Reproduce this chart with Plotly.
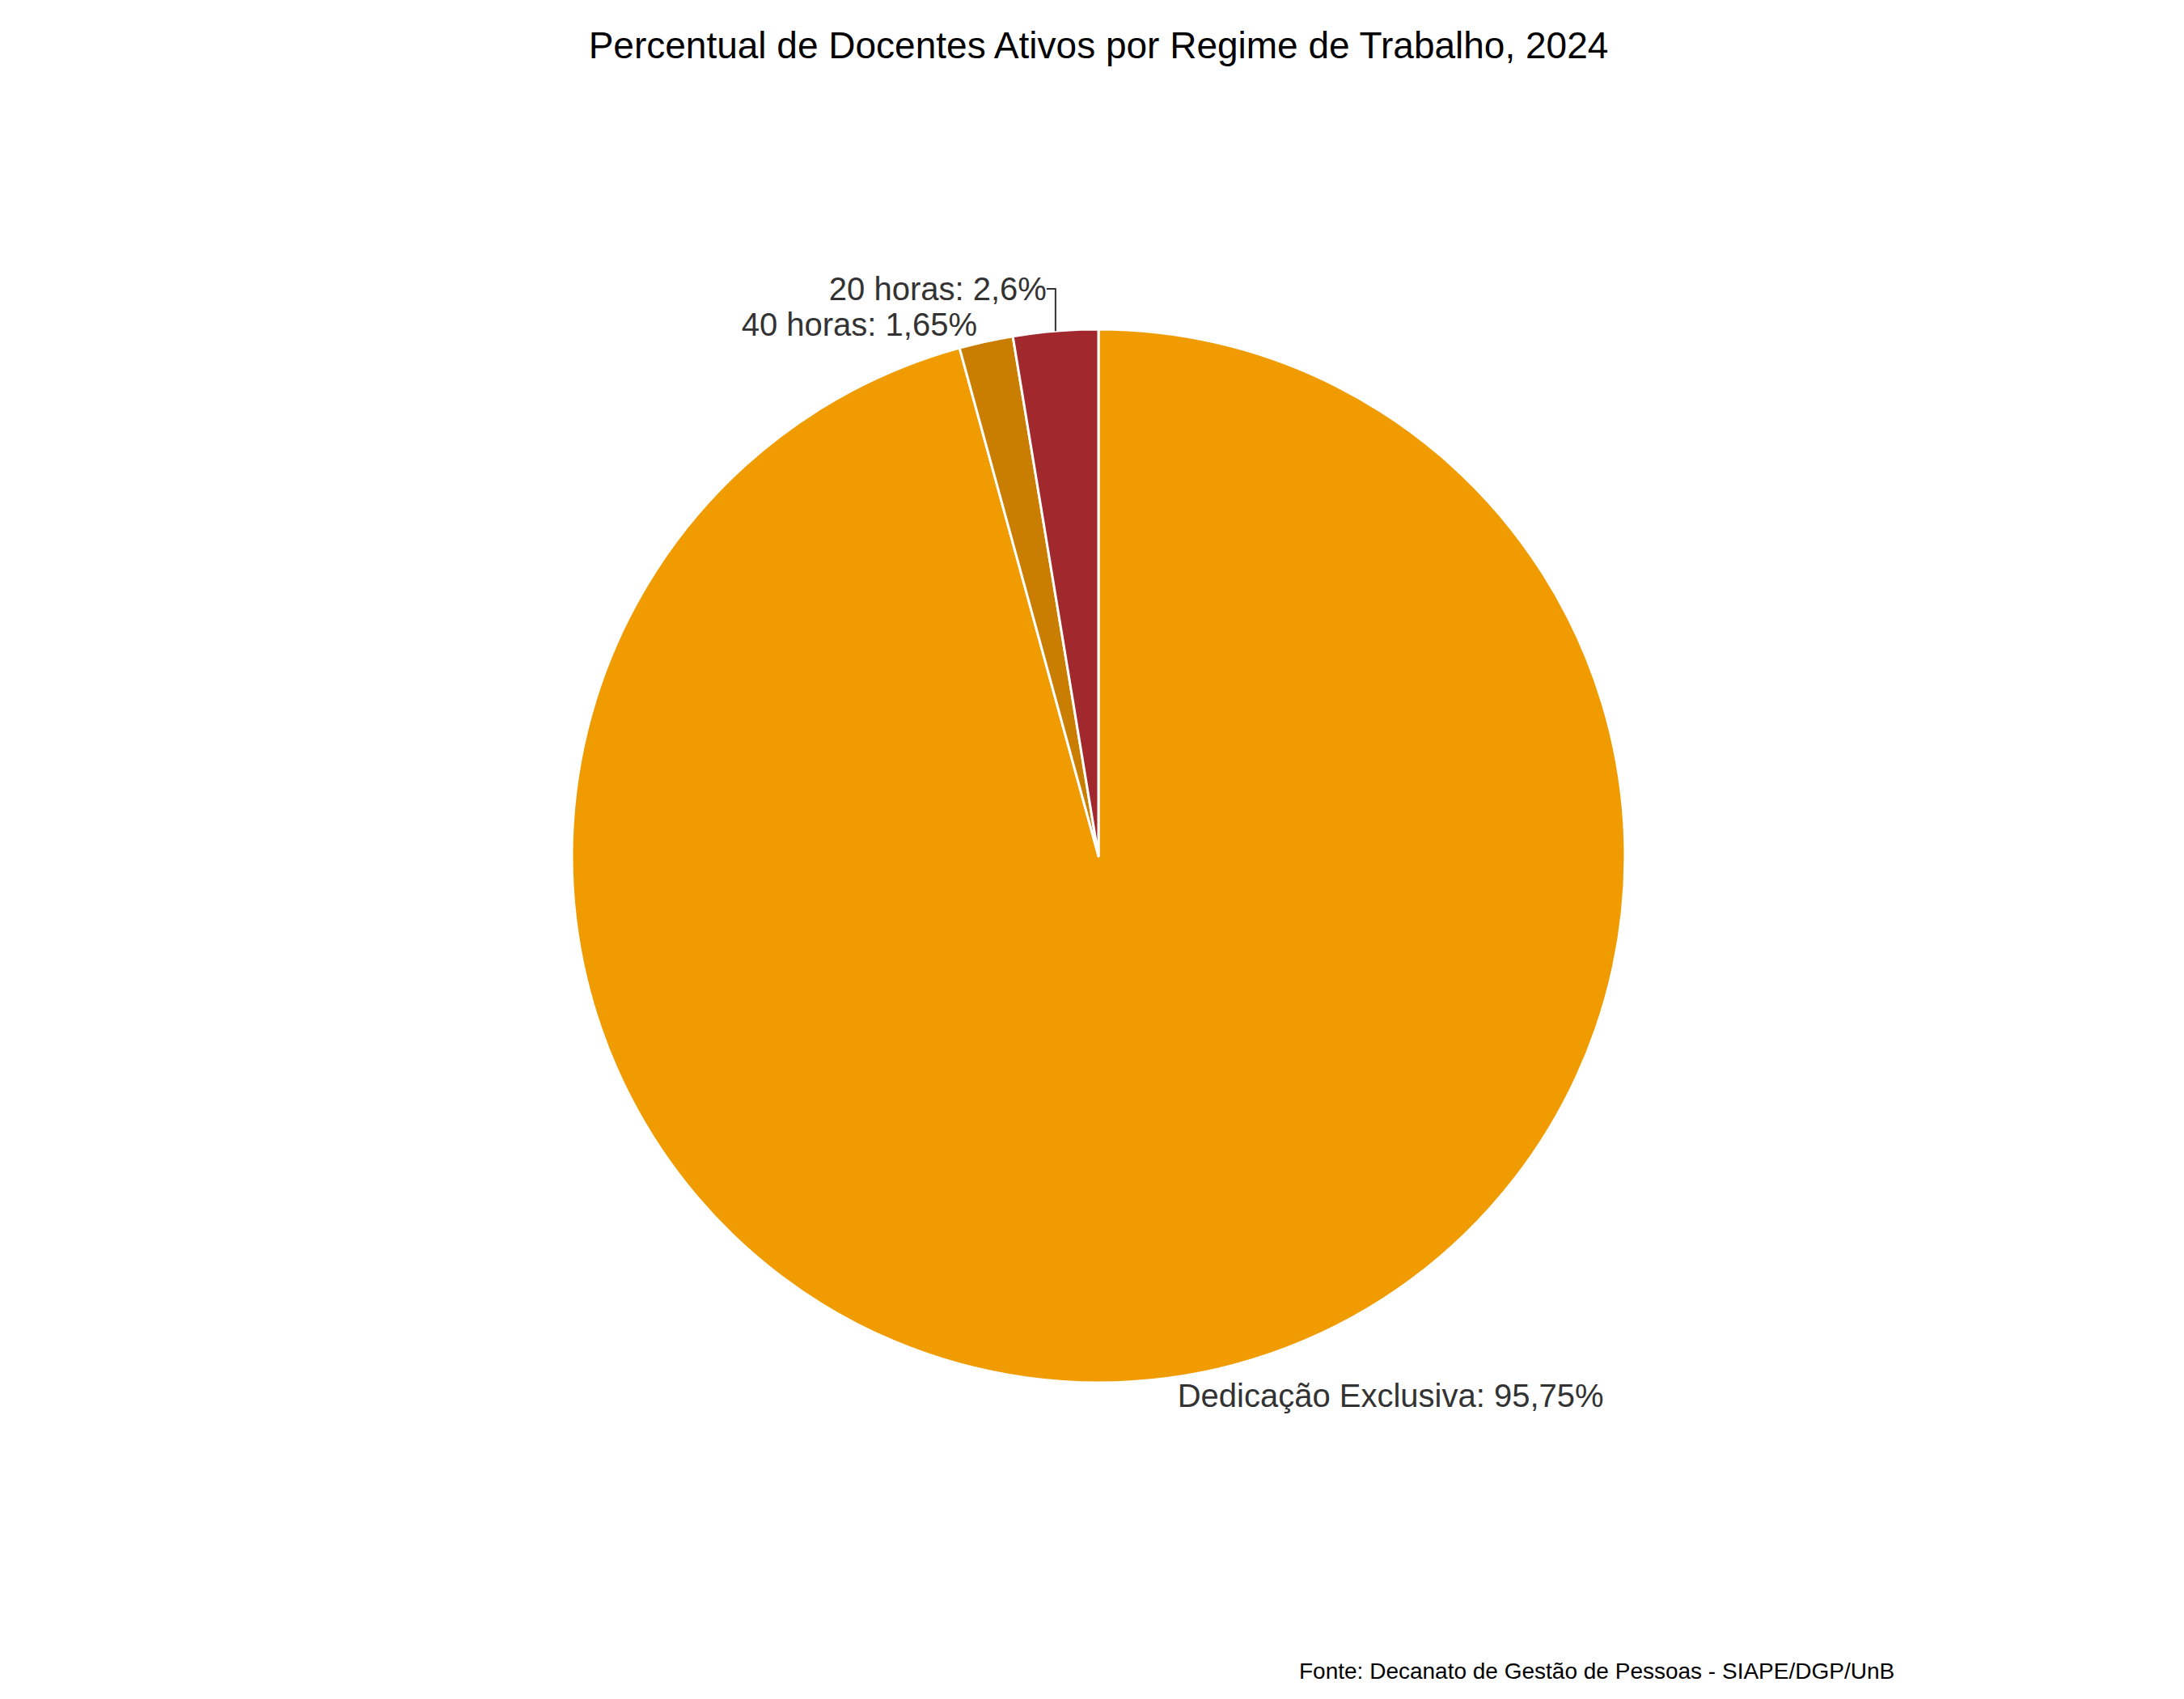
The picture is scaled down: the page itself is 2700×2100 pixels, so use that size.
import plotly.graph_objects as go

# dados
regimes = ['Dedicação Exclusiva', '40 horas', '20 horas']
percentuais = [95.75, 1.65, 2.6]
rotulos = ['95,75', '1,65', '2,6']
cores = ['#F09C00', '#C97E02', '#A1282C']

fig = go.Figure(go.Pie(
    labels=regimes,
    values=percentuais,
    text=[f'{r}: {p}%' for r, p in zip(regimes, rotulos)],
    textinfo='text',
    textposition='outside',
    direction='clockwise',
    rotation=0,
    sort=False,
    domain=dict(x=[0.25, 0.75], y=[0.19, 0.81]),
    marker=dict(colors=cores, line=dict(color='white', width=3)),
    textfont=dict(size=40, color='#333333'),
    showlegend=False,
))

fig.update_layout(
    width=2700, height=2100,
    font=dict(family='Liberation Sans, Arial, sans-serif'),
    title=dict(text='Percentual de Docentes Ativos por Regime de Trabalho, 2024',
               x=0.5, xanchor='center', y=0.985, font=dict(size=46, color='black')),
    margin=dict(t=0, b=0, l=0, r=0),
    paper_bgcolor='white',
    annotations=[dict(text='Fonte: Decanato de Gestão de Pessoas - SIAPE/DGP/UnB',
                      xref='paper', yref='paper', x=0.865, y=0.012,
                      xanchor='right', yanchor='bottom', showarrow=False,
                      font=dict(size=28, color='black'))],
)

fig.write_html('out.html')
